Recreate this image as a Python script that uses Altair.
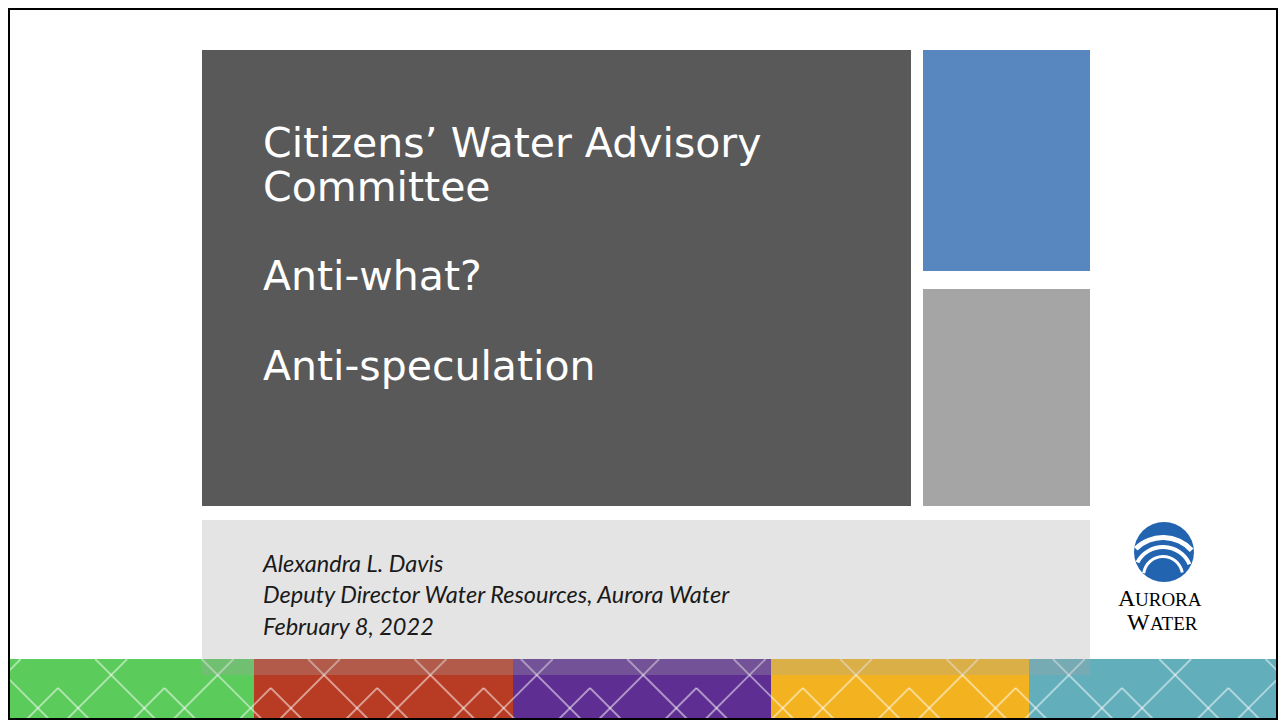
import altair as alt
import pandas as pd
import math

# ---------------- data ----------------
title_lines = ["Citizens\u2019 Water Advisory", "Committee", "Anti-what?", "Anti-speculation"]
title_baselines = [157, 201, 290, 380]

info_lines = ["Alexandra L. Davis", "Deputy Director Water Resources, Aurora Water", "February 8, 2022"]
info_baselines = [572, 603, 635]

# slide blocks
block_names = ["dark", "blue", "gray"]
block_x = [202, 923, 923]
block_x2 = [911, 1090, 1090]
block_y = [50, 50, 289]
block_y2 = [506, 271, 506]
block_colors = ["#595959", "#5887BF", "#A5A5A5"]

# bottom colour band
band_names = ["green", "red", "purple", "yellow", "teal"]
band_x = [9, 254, 513, 771, 1029]
band_x2 = [254, 513, 771, 1029, 1277]
band_colors = ["#5BCB5B", "#B83C24", "#5F2E92", "#F3B320", "#62AEBB"]
band_top, band_bottom = 659, 719

# pattern of the band (decorative zig-zag lattice)
pattern_first_peak = 58
pattern_period = 106.4

# logo
logo_cx, logo_cy, logo_r = 1164, 552, 30
arc_radius = [41, 31, 21]
arc_thick = [5, 4, 3]
arc_from_deg = [-45, -62, -82]
arc_to_deg = [48, 66, 80]

W, H = 1270, 713
xs = alt.Scale(domain=[8, 8 + W], nice=False, zero=False)
ys = alt.Scale(domain=[8, 8 + H], nice=False, zero=False, reverse=True)
X = lambda f: alt.X(f, type="quantitative", scale=xs, axis=None)
Y = lambda f: alt.Y(f, type="quantitative", scale=ys, axis=None)

# ---------------- layers ----------------
blocks = pd.DataFrame({"n": block_names, "x": block_x, "x2": block_x2,
                       "y": block_y, "y2": block_y2, "c": block_colors})
blocks_layer = alt.Chart(blocks).mark_rect().encode(
    x=X("x"), x2="x2", y=Y("y"), y2="y2", color=alt.Color("c:N", scale=None))

band = pd.DataFrame({"n": band_names, "x": band_x, "x2": band_x2,
                     "y": [band_top] * 5, "y2": [band_bottom] * 5, "c": band_colors})
band_layer = alt.Chart(band).mark_rect(clip=True).encode(
    x=X("x"), x2="x2", y=Y("y"), y2="y2", color=alt.Color("c:N", scale=None))


def clip_seg(x1, y1, x2, y2, lo=9, hi=1277):
    if x1 > x2:
        x1, y1, x2, y2 = x2, y2, x1, y1
    if x2 < lo or x1 > hi:
        return None
    sl = (y2 - y1) / (x2 - x1)
    if x1 < lo:
        y1 = y1 + sl * (lo - x1); x1 = lo
    if x2 > hi:
        y2 = y2 - sl * (x2 - hi); x2 = hi
    return (x1, y1, x2, y2)


segs = []
for k in range(-2, 14):
    p = pattern_first_peak + pattern_period * k
    c = p + pattern_period / 2
    cand = [
        (c - 16, band_top, c + 44, band_bottom),
        (c + 16, band_top, c - 44, band_bottom),
        (p - 31, band_bottom, p, band_bottom - 31),
        (p, band_bottom - 31, p + 31, band_bottom),
    ]
    for s in cand:
        r = clip_seg(*s)
        if r:
            segs.append(r)
pat = pd.DataFrame(segs, columns=["x", "y", "x2", "y2"])
pattern_layer = alt.Chart(pat).mark_rule(color="white", strokeWidth=1.8, opacity=0.5, clip=True).encode(
    x=X("x"), y=Y("y"), x2="x2", y2="y2")

info_box = pd.DataFrame({"x": [202], "x2": [1090], "y": [520], "y2": [675]})
info_box_layer = alt.Chart(info_box).mark_rect(color="#A5A5A5", opacity=0.3).encode(
    x=X("x"), x2="x2", y=Y("y"), y2="y2")

border = pd.DataFrame({"x": [9], "x2": [1277], "y": [9], "y2": [719]})
border_layer = alt.Chart(border).mark_rect(fill=None, stroke="black", strokeWidth=2, fillOpacity=0, clip=True).encode(
    x=X("x"), x2="x2", y=Y("y"), y2="y2")

titles = pd.DataFrame({"t": title_lines, "y": title_baselines, "x": [263] * 4})
title_layer = alt.Chart(titles).mark_text(
    align="left", baseline="alphabetic", font="DejaVu Sans", fontSize=41, color="white"
).encode(x=X("x"), y=Y("y"), text="t:N")

info = pd.DataFrame({"t": info_lines, "y": info_baselines, "x": [263] * 3})
info_layer = alt.Chart(info).mark_text(
    align="left", baseline="alphabetic", font="Lato", fontSize=23.5, fontStyle="italic", color="#1A1A1A"
).encode(x=X("x"), y=Y("y"), text="t:N")

circle = pd.DataFrame({"x": [logo_cx], "y": [logo_cy]})
circle_layer = alt.Chart(circle).mark_arc(radius=0, radius2=logo_r, theta=0, theta2=2 * math.pi,
                                          color="#2264B0").encode(x=X("x"), y=Y("y"))

arcs = pd.DataFrame({
    "x": [1163] * 3, "y": [576] * 3,
    "r2": arc_radius, "r": [a - t for a, t in zip(arc_radius, arc_thick)],
    "t1": [math.radians(a) + 2 * math.pi for a in arc_from_deg],
    "t2": [math.radians(a) + 2 * math.pi for a in arc_to_deg],
})
arcs_layer = alt.Chart(arcs).mark_arc(color="white").encode(
    x=X("x"), y=Y("y"),
    radius=alt.Radius("r:Q", scale=None), radius2="r2",
    theta=alt.Theta("t1:Q", scale=None), theta2="t2")

logo_text = pd.DataFrame({
    "t": ["A", "URORA", "W", "ATER"],
    "x": [1118, 1135, 1127, 1150],
    "y": [606, 606, 630, 630],
    "s": [24, 19, 24, 19],
})
logo_text_layer = alt.Chart(logo_text).mark_text(
    align="left", baseline="alphabetic", font="Liberation Serif", color="#000000"
).encode(x=X("x"), y=Y("y"), text="t:N", size=alt.Size("s:Q", scale=None))

chart = alt.layer(
    blocks_layer, band_layer, pattern_layer, info_box_layer, border_layer,
    title_layer, info_layer, circle_layer, arcs_layer, logo_text_layer
).properties(
    width=W, height=H, autosize=alt.AutoSizeParams(type="none"), padding=0, background="white"
).configure_view(stroke=None)

chart.save("out.html", embed_options={"renderer": "svg", "actions": False})
